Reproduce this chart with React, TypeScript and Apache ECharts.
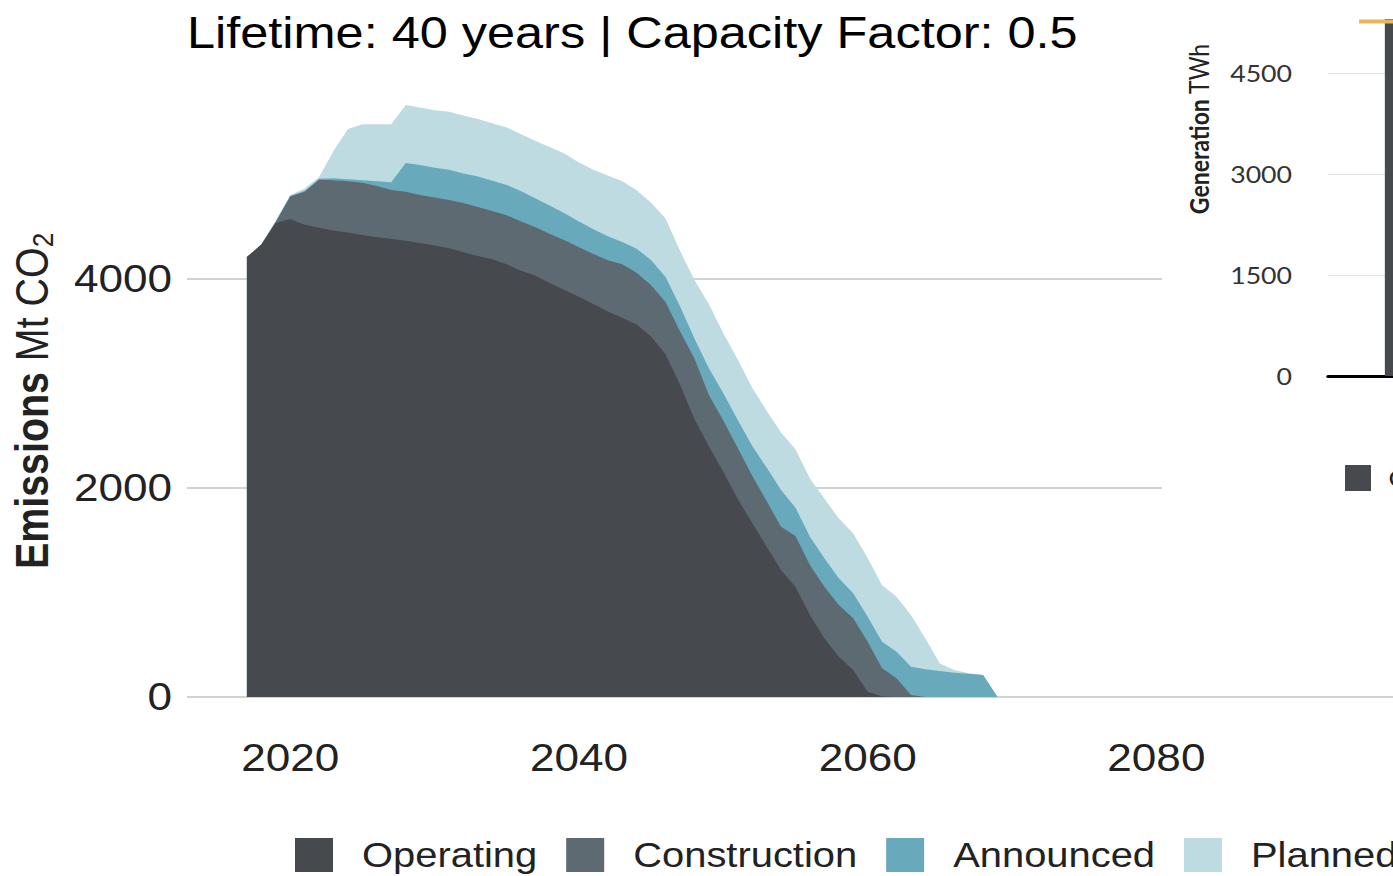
import React, { useEffect, useRef } from "react";
import * as echarts from "echarts";

// The reference picture is stretched horizontally; the chart is drawn in a
// narrower frame and stretched by the same factor.
const S = 1.16;

const years = [
  2017, 2018, 2019, 2020, 2021, 2022, 2023, 2024, 2025, 2026, 2027, 2028, 2029,
  2030, 2031, 2032, 2033, 2034, 2035, 2036, 2037, 2038, 2039, 2040, 2041, 2042,
  2043, 2044, 2045, 2046, 2047, 2048, 2049, 2050, 2051, 2052, 2053, 2054, 2055,
  2056, 2057, 2058, 2059, 2060, 2061, 2062, 2063, 2064, 2065, 2066, 2067, 2068,
  2069,
];
const operating = [
  4210, 4330, 4535, 4575, 4520, 4490, 4465, 4445, 4420, 4400, 4385, 4365, 4345,
  4320, 4295, 4255, 4220, 4190, 4140, 4080, 4030, 3960, 3895, 3830, 3760, 3690,
  3630, 3565, 3450, 3280, 2990, 2660, 2400, 2155, 1895, 1665, 1440, 1215, 1056,
  785, 562, 386, 258, 51, 5, 0, 0, 0, 0, 0, 0, 0, 0,
];
const construction = [
  0, 0, 10, 215, 316, 460, 480, 490, 502, 490, 467, 470, 459, 460, 460, 472,
  470, 460, 470, 470, 465, 470, 475, 475, 480, 490, 510, 495, 490, 500, 510,
  580, 490, 490, 487, 453, 435, 415, 484, 478, 494, 494, 495, 478, 269, 179,
  19, 0, 0, 0, 0, 0, 0,
];
const announced = [
  0, 0, 5, 5, 9, 10, 20, 20, 23, 45, 73, 275, 286, 285, 290, 283, 290, 290,
  290, 290, 275, 270, 260, 245, 235, 230, 215, 230, 240, 240, 240, 190, 256,
  262, 268, 287, 320, 350, 272, 271, 271, 256, 239, 239, 255, 255, 271, 265,
  250, 233, 222, 211, 0,
];
const planned = [
  0, 0, 10, 10, 20, 15, 260, 480, 535, 545, 555, 555, 550, 550, 555, 555, 550,
  550, 550, 545, 550, 560, 570, 565, 570, 580, 580, 560, 550, 560, 530, 560,
  614, 573, 580, 555, 545, 550, 558, 556, 573, 574, 573, 562, 541, 526, 495,
  295, 70, 25, 5, 0, 0,
];
const statusNames = ["Operating", "Construction", "Announced", "Planned"];
const statusColors = ["#464a4e", "#5e6a72", "#68a9bb", "#bddbe1"];
const xTickLabels = [2020, 2040, 2060, 2080];

// inset (generation)
const genX = [0.65, 3.35];
const genBarX = 2;
const genBar = 5300;
const genTarget = 5265;

const FONT = "'Liberation Sans', Arial, Helvetica, sans-serif";
const INSET_FONT = "Lato, 'Open Sans', sans-serif";
const W = 1320;
const H = 876;
const dx = (v: number) => v / S;

export default function App() {
  const ref = useRef<HTMLDivElement>(null);

  useEffect(() => {
    if (!ref.current) return;
    const chart = echarts.init(ref.current, undefined, { renderer: "svg" });
    const layers = [operating, construction, announced, planned];
    // running totals (stack) of the four layers
    const cumulative: number[][] = [];
    layers.forEach((arr, k) => {
      cumulative.push(arr.map((v, i) => v + (k > 0 ? cumulative[k - 1][i] : 0)));
    });

    const areaSeries = statusNames.map((name, k) => ({
      type: "line",
      name,
      xAxisIndex: 0,
      yAxisIndex: 0,
      data: years.map((yr, i) => [yr, cumulative[k][i]]),
      showSymbol: false,
      symbol: "none",
      lineStyle: { width: 0, color: statusColors[k] },
      itemStyle: { color: statusColors[k] },
      areaStyle: { color: statusColors[k], opacity: 1 },
      z: 6 - k,
    }));

    const option: any = {
      animation: false,
      backgroundColor: "#ffffff",
      title: {
        text: "Lifetime: 40 years | Capacity Factor: 0.5",
        left: dx(187),
        top: 11,
        padding: 0,
        textStyle: {
          fontSize: 43.5,
          fontWeight: "normal",
          color: "#000",
          fontFamily: FONT,
        },
      },
      grid: [
        { left: dx(187), top: 70, width: dx(1318), height: 627 },
        { left: dx(1328), top: 0, width: 165, height: 376 },
      ],
      xAxis: [
        {
          type: "value",
          gridIndex: 0,
          min: 2012.85,
          max: 2104.15,
          axisLine: { show: false },
          axisTick: { show: false },
          splitLine: { show: false },
          axisLabel: {
            customValues: xTickLabels,
            formatter: (v: number) => String(v),
            margin: 42,
            fontSize: 38,
            color: "#222",
            fontFamily: FONT,
          },
        },
        {
          type: "value",
          gridIndex: 1,
          min: 0,
          max: 4,
          axisLine: {
            show: true,
            onZero: true,
            lineStyle: { color: "#000", width: 3 },
          },
          axisTick: { show: false },
          axisLabel: { show: false },
          splitLine: { show: false },
          z: 3,
        },
      ],
      yAxis: [
        {
          type: "value",
          gridIndex: 0,
          min: 0,
          max: 6000,
          interval: 2000,
          axisLine: { show: false },
          axisTick: { show: false },
          axisLabel: {
            formatter: (v: number) => String(v),
            showMaxLabel: false,
            margin: 13,
            fontSize: 38,
            color: "#222",
            fontFamily: FONT,
          },
          splitLine: {
            show: true,
            showMaxLine: false,
            lineStyle: {
              color: ["#d2d2d2", "#d2d2d2", "#d2d2d2", "rgba(0,0,0,0)"],
              width: 2,
            },
          },
        },
        {
          type: "value",
          gridIndex: 1,
          min: 0,
          max: 5584,
          interval: 1500,
          axisLine: { show: false },
          axisTick: { show: false },
          axisLabel: {
            formatter: (v: number) => String(v),
            showMaxLabel: false,
            margin: 31,
            fontSize: 23,
            color: "#333",
            fontFamily: INSET_FONT,
          },
          splitLine: {
            show: true,
            showMaxLine: false,
            lineStyle: {
              color: ["#e2e2e2", "#e2e2e2", "#e2e2e2", "#e2e2e2", "rgba(0,0,0,0)"],
              width: 1,
            },
          },
          z: 3,
        },
      ],
      legend: [
        {
          data: statusNames.map((n, k) => ({
            name: n,
            icon: "rect",
            itemStyle: { color: statusColors[k], borderWidth: 0 },
          })),
          left: dx(295),
          top: 838,
          padding: 0,
          orient: "horizontal",
          itemWidth: dx(38),
          itemHeight: 34,
          itemGap: 25,
          selectedMode: false,
          textStyle: {
            fontSize: 34.4,
            color: "#222",
            fontFamily: FONT,
            padding: [0, 0, 0, 20],
          },
        },
        {
          data: [
            {
              name: "Operating",
              icon: "rect",
              itemStyle: { color: statusColors[0], borderWidth: 0 },
            },
          ],
          left: dx(1345),
          top: 465,
          padding: 0,
          itemWidth: dx(26),
          itemHeight: 26,
          selectedMode: false,
          textStyle: {
            fontSize: 23,
            color: "#222",
            fontFamily: INSET_FONT,
            padding: [0, 0, 0, 10],
          },
        },
      ],
      graphic: [
        {
          type: "rect",
          silent: true,
          z: 1,
          shape: { x: dx(1162), y: 0, width: 400, height: 560 },
          style: { fill: "#ffffff" },
        },
        {
          type: "text",
          silent: true,
          z: 10,
          x: dx(31.5),
          y: 401,
          rotation: Math.PI / 2,
          style: {
            text: "{b|Emissions}{n|\u00a0Mt CO}{s|2}",
            align: "center",
            verticalAlign: "middle",
            fill: "#222",
            rich: {
              b: {
                fontSize: 39.4,
                fontWeight: "bold",
                fontFamily: FONT,
                fill: "#222",
                lineHeight: 46,
              },
              n: {
                fontSize: 39.4,
                fontFamily: FONT,
                fill: "#222",
                lineHeight: 46,
              },
              s: {
                fontSize: 26,
                fontFamily: FONT,
                fill: "#222",
                lineHeight: 46,
                verticalAlign: "bottom",
              },
            },
          },
        },
        {
          type: "text",
          silent: true,
          z: 10,
          x: dx(1198),
          y: 129,
          rotation: Math.PI / 2,
          style: {
            text: "{b|Generation}{n|\u00a0TWh}",
            align: "center",
            verticalAlign: "middle",
            fill: "#222",
            rich: {
              b: {
                fontSize: 23,
                fontWeight: "bold",
                fontFamily: INSET_FONT,
                fill: "#222",
              },
              n: { fontSize: 23, fontFamily: INSET_FONT, fill: "#222" },
            },
          },
        },
      ],
      series: [
        ...areaSeries,
        {
          type: "bar",
          name: "Operating",
          xAxisIndex: 1,
          yAxisIndex: 1,
          data: [[genBarX, genBar]],
          barWidth: 67,
          itemStyle: { color: statusColors[0] },
          z: 4,
        },
        {
          type: "line",
          name: "Target",
          xAxisIndex: 1,
          yAxisIndex: 1,
          data: genX.map((x) => [x, genTarget]),
          symbol: "none",
          lineStyle: { color: "#eab65c", width: 4 },
          z: 5,
        },
      ],
    };
    chart.setOption(option);
    return () => chart.dispose();
  }, []);

  return (
    <div
      style={{
        position: "absolute",
        left: 0,
        top: 0,
        width: 1393,
        height: 876,
        overflow: "hidden",
        background: "#fff",
      }}
    >
      <div
        ref={ref}
        style={{
          width: W,
          height: H,
          transform: `scaleX(${S})`,
          transformOrigin: "0 0",
        }}
      />
    </div>
  );
}
